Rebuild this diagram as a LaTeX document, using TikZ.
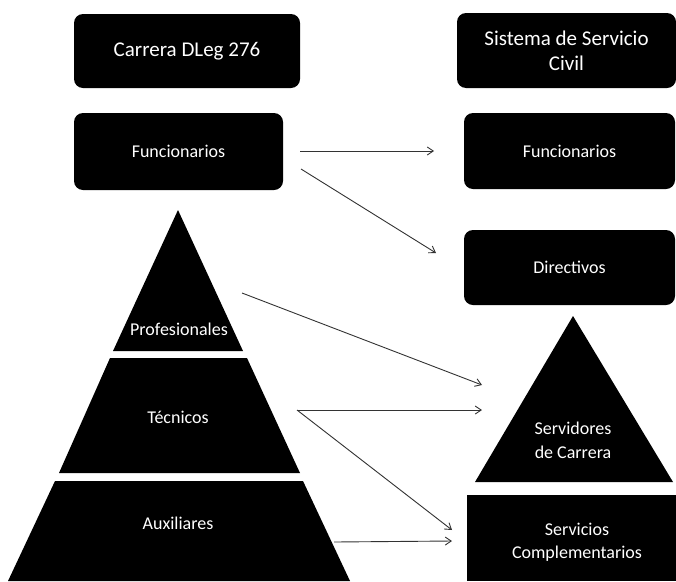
\documentclass[tikz,border=0pt]{standalone}
\usepackage{fontspec}
\setmainfont{Carlito}
\usetikzlibrary{arrows.meta,positioning}

\tikzset{
  caja/.style={rectangle,rounded corners=9pt,fill=black,text=white,align=center,inner sep=0pt},
  titulo/.style={font=\fontsize{21}{25}\selectfont},
  rotulo/.style={text=white,align=center,inner sep=0pt,font=\fontsize{18}{24}\selectfont},
  flecha/.style={draw=black!80,line width=0.9pt,-{Straight Barb[length=6pt,width=8pt]}}
}

\begin{document}
\begin{tikzpicture}[x=1pt,y=-1pt]
\useasboundingbox (0,0) rectangle (676,581);
% cajas
\node at (187,51)[caja,titulo,minimum width=226pt,minimum height=74pt](carrera){Carrera DLeg 276};
\node at (566.5,50.5)[caja,titulo,minimum width=219pt,minimum height=75pt](sistema){Sistema de Servicio\\Civil};
\node at (178.5,151.5)[caja,rotulo,minimum width=209pt,minimum height=77pt](funL){Funcionarios};
\node at (569.5,151)[caja,rotulo,minimum width=211pt,minimum height=76pt](funR){Funcionarios};
\node at (569.5,267.5)[caja,rotulo,minimum width=211pt,minimum height=75pt](dir){Directivos};
% piramide izquierda
\fill (178,210) -- (243,351) -- (113,351) -- cycle;
\fill (110,358) -- (247,358) -- (300,473) -- (59,473) -- cycle;
\fill (55,481) -- (303,481) -- (350,581) -- (8,581) -- cycle;
\node at (179,329)[rotulo](prof){Profesionales};
\node at (178,417)[rotulo](tec){Técnicos};
\node at (178,523)[rotulo](aux){Auxiliares};
% lado derecho
\fill (573,316) -- (673,482) -- (475,482) -- cycle;
\fill (467,495) rectangle (676,581);
\node at (573,440.5)[rotulo](serv){Servidores\\de Carrera};
\node at (577,542)[rotulo,font=\fontsize{18}{23}\selectfont](comp){Servicios\\Complementarios};
% puntos de las flechas
\coordinate (funL-a) at (300,151);
\coordinate (funR-a) at (434,151);
\coordinate (funL-b) at (301,169);
\coordinate (dir-a) at (436,253);
\coordinate (prof-a) at (242,293);
\coordinate (serv-a) at (482,385);
\coordinate (tec-a) at (297,410);
\coordinate (serv-b) at (482,410);
\coordinate (comp-a) at (452,530);
\coordinate (aux-a) at (334,542);
\coordinate (comp-b) at (452,541);
% flechas
\draw[flecha] (funL-a) -- (funR-a);
\draw[flecha] (funL-b) -- (dir-a);
\draw[flecha] (prof-a) -- (serv-a);
\draw[flecha] (tec-a) -- (serv-b);
\draw[flecha] (tec-a) -- (comp-a);
\draw[flecha] (aux-a) -- (comp-b);
\end{tikzpicture}
\end{document}
